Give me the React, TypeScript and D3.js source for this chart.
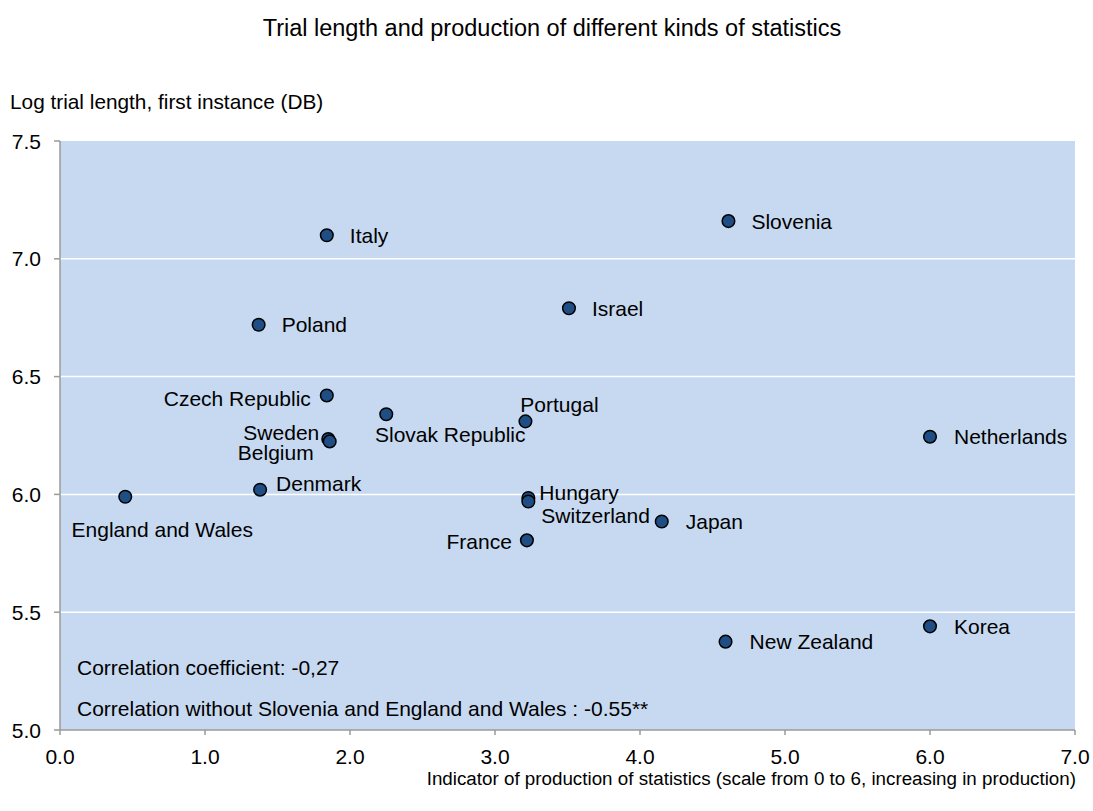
import React from "react";
import * as d3 from "d3";

const countries = ["Italy", "Slovenia", "Israel", "Poland", "Czech Republic", "Slovak Republic", "Portugal", "Sweden", "Belgium", "Netherlands", "Denmark", "England and Wales", "Hungary", "Switzerland", "Japan", "France", "New Zealand", "Korea"];
const statsIndicator = [1.84, 4.61, 3.51, 1.37, 1.84, 2.25, 3.21, 1.85, 1.86, 6.0, 1.38, 0.45, 3.23, 3.23, 4.15, 3.22, 4.59, 6.0];
const logTrialLength = [7.10, 7.16, 6.79, 6.72, 6.42, 6.34, 6.31, 6.235, 6.225, 6.245, 6.02, 5.99, 5.985, 5.97, 5.885, 5.805, 5.375, 5.44];
// label placement: [dx, dy, anchor]
const labelPlacement: [number, number, string][] = [
  [23, 0, "start"], [23, 0, "start"], [23, 0, "start"], [23, 0, "start"],
  [-16, 3, "end"], [64, 20, "middle"], [34, -17, "middle"], [-9, -7, "end"],
  [-16, 11, "end"], [24, 0, "start"], [16, -6, "start"], [37, 33, "middle"],
  [11, -5, "start"], [13, 14, "start"], [24, 0, "start"], [-15, 1, "end"],
  [24, 0, "start"], [24, 0, "start"],
];
const xTicks = [0, 1, 2, 3, 4, 5, 6, 7];
const yTicks = [5.0, 5.5, 6.0, 6.5, 7.0, 7.5];
const notes = ["Correlation coefficient: -0,27", "Correlation without Slovenia and England and Wales : -0.55**"];

export default function App() {
  const width = 1093, height = 811;
  const left = 60, right = 1075, top = 141, bottom = 730;
  const x = d3.scaleLinear().domain([0, 7]).range([left, right]);
  const y = d3.scaleLinear().domain([5, 7.5]).range([bottom, top]);
  const font = "'Liberation Sans', Arial, sans-serif";
  const axisColor = "#9a9a9a";
  const fs = 21;
  return (
    <svg width={width} height={height} style={{ position: "absolute", left: 0, top: 0, fontFamily: font }}>
      <text x={552} y={28} textAnchor="middle" dominantBaseline="central" fontSize={23.5} fill="#000">Trial length and production of different kinds of statistics</text>
      <text x={10} y={101} dominantBaseline="central" fontSize={20.8} fill="#000">Log trial length, first instance (DB)</text>
      <rect x={left} y={top} width={right - left} height={bottom - top} fill="#C6D9F0" />
      {yTicks.filter(t => t > 5 && t < 7.5).map(t => (
        <line key={"g" + t} x1={left} x2={right} y1={y(t)} y2={y(t)} stroke="#fff" strokeWidth={1.5} />
      ))}
      <line x1={left} x2={left} y1={top} y2={bottom} stroke={axisColor} strokeWidth={1.5} />
      <line x1={left} x2={right} y1={bottom} y2={bottom} stroke={axisColor} strokeWidth={1.5} />
      {yTicks.map(t => (
        <g key={"y" + t}>
          <line x1={left - 6} x2={left} y1={y(t)} y2={y(t)} stroke={axisColor} strokeWidth={1.5} />
          <text x={41} y={y(t)} textAnchor="end" dominantBaseline="central" fontSize={fs} fill="#000">{d3.format(".1f")(t)}</text>
        </g>
      ))}
      {xTicks.map(t => (
        <g key={"x" + t}>
          <line x1={x(t)} x2={x(t)} y1={bottom} y2={bottom + 5} stroke={axisColor} strokeWidth={1.5} />
          <text x={x(t)} y={756} textAnchor="middle" dominantBaseline="central" fontSize={fs} fill="#000">{d3.format(".1f")(t)}</text>
        </g>
      ))}
      <text x={1076} y={778} textAnchor="end" dominantBaseline="central" fontSize={18.8} fill="#000">Indicator of production of statistics (scale from 0 to 6, increasing in production)</text>
      {countries.map((c, i) => (
        <circle key={"c" + c} cx={x(statsIndicator[i])} cy={y(logTrialLength[i])} r={6.3} fill="#1F4E85" stroke="#000" strokeWidth={1.5} />
      ))}
      {countries.map((c, i) => {
        const [dx, dy, anchor] = labelPlacement[i];
        return (
          <text key={"l" + c} x={x(statsIndicator[i]) + dx} y={y(logTrialLength[i]) + dy} textAnchor={anchor} dominantBaseline="central" fontSize={fs} fill="#000">{c}</text>
        );
      })}
      {notes.map((n, i) => (
        <text key={"n" + i} x={77} y={667 + i * 41.5} dominantBaseline="central" fontSize={fs} fill="#000">{n}</text>
      ))}
    </svg>
  );
}
